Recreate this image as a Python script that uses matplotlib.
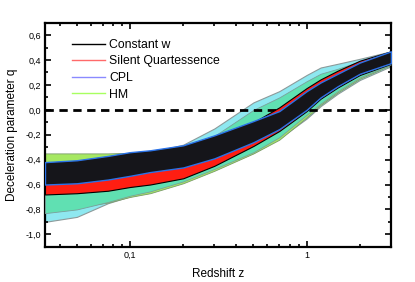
import matplotlib
matplotlib.use("Agg")
import matplotlib.pyplot as plt
from matplotlib.lines import Line2D
from matplotlib.ticker import FixedLocator, FuncFormatter, MultipleLocator, NullFormatter

plt.rcParams['font.family'] = ['Liberation Sans', 'DejaVu Sans']

# redshift grid and band edges
z = [0.033, 0.05, 0.075, 0.1, 0.13, 0.2, 0.3, 0.5, 0.7, 1.0, 1.2, 1.5, 2.0, 3.0]

cyan_hi = [-0.40, -0.39, -0.38, -0.36, -0.34, -0.28, -0.15, 0.06, 0.15, 0.28, 0.34, 0.37, 0.41, 0.47]
cyan_lo = [-0.90, -0.86, -0.75, -0.695, -0.66, -0.58, -0.48, -0.345, -0.23, -0.07, 0.03, 0.13, 0.24, 0.35]

hm_hi = [-0.35, -0.35, -0.35, -0.345, -0.335, -0.295, -0.23, -0.13, -0.03, 0.11, 0.18, 0.26, 0.35, 0.44]
hm_lo = [-0.80, -0.78, -0.745, -0.70, -0.67, -0.59, -0.49, -0.35, -0.24, -0.06, 0.04, 0.14, 0.25, 0.36]

mint_hi = [-0.45, -0.44, -0.42, -0.40, -0.38, -0.32, -0.21, 0.00, 0.10, 0.23, 0.29, 0.33, 0.39, 0.46]
mint_lo = [-0.83, -0.80, -0.74, -0.69, -0.655, -0.575, -0.475, -0.34, -0.22, -0.04, 0.05, 0.15, 0.26, 0.365]

sq_hi = [-0.44, -0.425, -0.40, -0.37, -0.345, -0.305, -0.225, -0.10, 0.02, 0.175, 0.245, 0.315, 0.395, 0.47]
sq_lo = [-0.68, -0.67, -0.65, -0.62, -0.60, -0.55, -0.45, -0.29, -0.17, -0.01, 0.09, 0.18, 0.28, 0.37]

cw_hi = [-0.42, -0.405, -0.37, -0.34, -0.325, -0.285, -0.205, -0.09, -0.01, 0.15, 0.22, 0.29, 0.38, 0.47]
cw_lo = [-0.60, -0.59, -0.56, -0.53, -0.50, -0.463, -0.39, -0.26, -0.155, 0.0, 0.10, 0.19, 0.29, 0.375]

labels = ["Constant w", "Silent Quartessence", "CPL", "HM"]
leg_colors = ["black", "#ff6a6a", "#8a8aff", "#a8ff60"]

yticks = [-1.0, -0.8, -0.6, -0.4, -0.2, 0.0, 0.2, 0.4, 0.6]
xticks = [0.1, 1]

fig = plt.figure(figsize=(4.15, 2.82), dpi=100)
ax = fig.add_axes([0.1084, 0.125, 0.8336, 0.7945])

# bands, back to front
ax.fill_between(z, cyan_lo, cyan_hi, facecolor="#8ee8f0", edgecolor="#8c9a9a", lw=0.8, zorder=1)
ax.fill_between(z, hm_lo, hm_hi, facecolor="#a6e862", edgecolor="#7a9a6a", lw=0.6, zorder=2)
ax.fill_between(z, mint_lo, mint_hi, facecolor="#60e0b2", edgecolor="#7aa09a", lw=0.6, zorder=3)
ax.axhline(0, color="black", lw=2, ls=(0, (3, 2)), zorder=4)
ax.fill_between(z, sq_lo, sq_hi, facecolor="#ff1e12", edgecolor="black", lw=0.8, zorder=5)
ax.fill_between(z, cw_lo, cw_hi, facecolor="#15151a", edgecolor="#2a72e8", lw=1.0, zorder=6)

ax.set_xscale("log")
ax.set_xlim(0.033, 3.0)
ax.set_ylim(-1.1, 0.7)

comma = FuncFormatter(lambda v, p: ("%g" % v).replace(".", ","))
ax.xaxis.set_major_locator(FixedLocator(xticks))
ax.xaxis.set_major_formatter(comma)
ax.xaxis.set_minor_formatter(NullFormatter())
ax.yaxis.set_major_locator(FixedLocator(yticks))
ax.yaxis.set_major_formatter(FuncFormatter(lambda v, p: ("%.1f" % v).replace(".", ",").replace("-0,0", "0,0")))
ax.yaxis.set_minor_locator(MultipleLocator(0.1))

ax.tick_params(which="both", direction="in", top=True, right=True, width=1.2, labelsize=6.5, pad=3)
ax.tick_params(which="major", length=4)
ax.tick_params(which="minor", length=2.5)
for s in ax.spines.values():
    s.set_linewidth(1.6)

ax.set_xlabel("Redshift z", fontsize=8.5, labelpad=6)
ax.set_ylabel("Deceleration parameter q", fontsize=8.5, labelpad=5)

handles = [Line2D([], [], color=c, lw=1) for c in leg_colors]
ax.legend(handles, labels, loc="upper left", bbox_to_anchor=(0.078, 0.928), frameon=False,
          fontsize=8.8, handlelength=2.7, handletextpad=0.35, labelspacing=0.38,
          borderpad=0, borderaxespad=0)

fig.savefig("out.png", dpi=100)
